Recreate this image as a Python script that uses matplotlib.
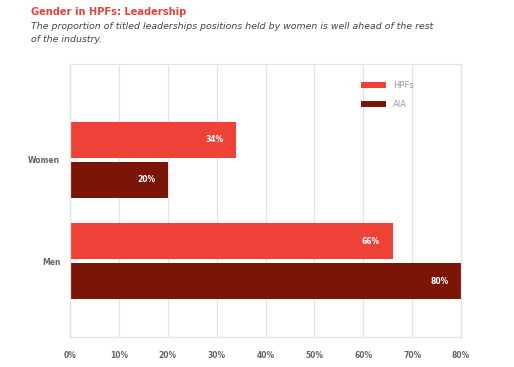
import matplotlib.pyplot as plt
import numpy as np

groups = ['Women', 'Men']
hpfs = [34, 66]
aia = [20, 80]
ticks = [0, 10, 20, 30, 40, 50, 60, 70, 80]

red = '#ee4137'
dark = '#7a1508'
grey = '#666666'

fig = plt.figure(figsize=(5.14, 3.67), dpi=100)
ax = fig.add_axes([0.1362, 0.0817, 0.7607, 0.7439])

y = np.arange(len(groups))
h = 0.356
off = 0.198
b1 = ax.barh(y - off, hpfs, height=h, color=red, label='HPFs', zorder=2)
b2 = ax.barh(y + off, aia, height=h, color=dark, label='AIA', zorder=2)

for bars, vals in ((b1, hpfs), (b2, aia)):
    for bar, v in zip(bars, vals):
        ax.annotate(f'{v}%', (v, bar.get_y() + bar.get_height() / 2),
                    xytext=(-9, 0), textcoords='offset points',
                    ha='right', va='center', color='white',
                    fontsize=5.5, fontweight='bold')

ax.set_xlim(0, 80)
ax.set_ylim(1.752, -0.95)
ax.set_xticks(ticks)
ax.set_xticklabels([f'{t}%' for t in ticks])
ax.set_yticks(y)
ax.set_yticklabels(groups)
ax.tick_params(length=0, colors=grey, labelsize=5.5)
ax.tick_params(axis='x', pad=10)
ax.tick_params(axis='y', pad=7)
for lab in ax.get_xticklabels() + ax.get_yticklabels():
    lab.set_fontweight('bold')
ax.grid(axis='x', color='#e3e3e3', lw=0.9, zorder=0)
for s in ax.spines.values():
    s.set_color('#e3e3e3')
    s.set_linewidth(0.9)

leg = ax.legend(loc='upper left', bbox_to_anchor=(0.725, 0.965), frameon=False,
                fontsize=6, handlelength=3.0, handleheight=0.7,
                labelspacing=1.15, handletextpad=0.8)
for t in leg.get_texts():
    t.set_color('#999999')

fig.text(0.06, 0.982, 'Gender in HPFs: Leadership', color='#e0433b',
         fontsize=7.1, fontweight='bold', va='top')
fig.text(0.06, 0.94, 'The proportion of titled leaderships positions held by women is well ahead of the rest\nof the industry.',
         color='#444444', fontsize=6.75, style='italic', va='top', linespacing=1.6)

fig.savefig('out.png', dpi=100)
